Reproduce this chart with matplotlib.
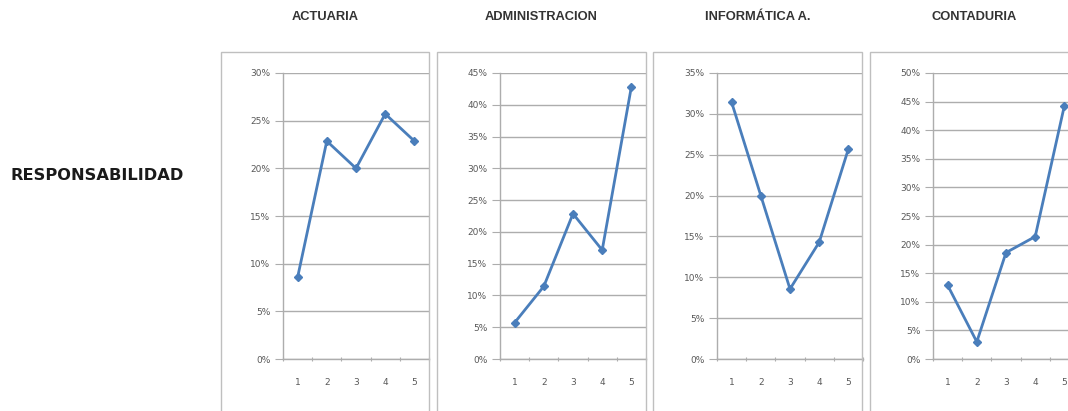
"""Responsabilidad: four small Excel-style line panels, one per carrera."""

import matplotlib
matplotlib.use('Agg')
import matplotlib.pyplot as plt
from matplotlib.patches import Rectangle
from matplotlib.ticker import PercentFormatter

W, H = 1068, 411

row_label = 'RESPONSABILIDAD'
titles = ['ACTUARIA', 'ADMINISTRACION', 'INFORMÁTICA A.', 'CONTADURIA']
categories = [1, 2, 3, 4, 5]
actuaria = [8.57, 22.86, 20.0, 25.71, 22.86]
administracion = [5.71, 11.43, 22.86, 17.14, 42.86]
informatica = [31.43, 20.0, 8.57, 14.29, 25.71]
contaduria = [12.9, 3.0, 18.6, 21.4, 44.3]
series = [actuaria, administracion, informatica, contaduria]
y_max = [30, 45, 35, 50]

# panel geometry in pixels (left edge of plot area, outer box left/right)
plot_left = [283, 500, 717, 933]
plot_w = 146
plot_top, plot_bottom = 73, 359
boxes = [(221, 429), (437, 646), (653, 862), (870, 1079)]
box_top = 52

line_color = '#4a7ebb'
grid_color = '#adadad'
text_color = '#595959'

fig = plt.figure(figsize=(W / 100, H / 100), dpi=100)
fig.patch.set_facecolor('white')

fig.text(10 / W, 1 - 175 / H, row_label, fontsize=11.7, fontweight='bold',
         color='#1a1a1a', ha='left', va='center', family='DejaVu Sans')

for i, (title, vals, ymax) in enumerate(zip(titles, series, y_max)):
    bl, br = boxes[i]
    fig.patches.append(Rectangle((bl / W, -0.1), (br - bl) / W, 1 - box_top / H + 0.1,
                                 transform=fig.transFigure, fill=False,
                                 edgecolor='#bfbfbf', lw=1.0, zorder=0))
    fig.text((bl + br) / 2 / W, 1 - 17 / H, title, fontsize=9.3, fontweight='bold',
             color='#333333', ha='center', va='center', family='Liberation Sans')

    ax = fig.add_axes([plot_left[i] / W, 1 - plot_bottom / H,
                       plot_w / W, (plot_bottom - plot_top) / H])
    ax.set_facecolor('none')
    ax.plot(categories, vals, color=line_color, lw=2, marker='D', ms=4.5,
            markerfacecolor=line_color, markeredgecolor=line_color, zorder=3,
            clip_on=False)
    ax.set_xlim(0.5, 5.5)
    ax.set_ylim(0, ymax)
    ax.set_yticks(range(0, ymax + 1, 5))
    ax.yaxis.set_major_formatter(PercentFormatter(decimals=0))
    ax.yaxis.grid(True, color=grid_color, lw=1)
    ax.set_axisbelow(True)

    # category axis: marks between categories, labels at centers
    ax.set_xticks([0.5, 1.5, 2.5, 3.5, 4.5, 5.5])
    ax.set_xticklabels([])
    ax.set_xticks(categories, minor=True)
    ax.set_xticklabels([str(c) for c in categories], minor=True)
    ax.tick_params(axis='x', which='major', length=3, color=grid_color, direction='inout')
    ax.tick_params(axis='x', which='minor', length=0, pad=14, labelsize=6.5,
                   labelcolor=text_color)
    ax.tick_params(axis='y', length=6, color=grid_color, labelsize=6.5,
                   labelcolor=text_color, pad=3)

    for side in ['top', 'right']:
        ax.spines[side].set_visible(False)
    for side in ['left', 'bottom']:
        ax.spines[side].set_color(grid_color)
        ax.spines[side].set_linewidth(1)

fig.savefig('out.png', dpi=100)
